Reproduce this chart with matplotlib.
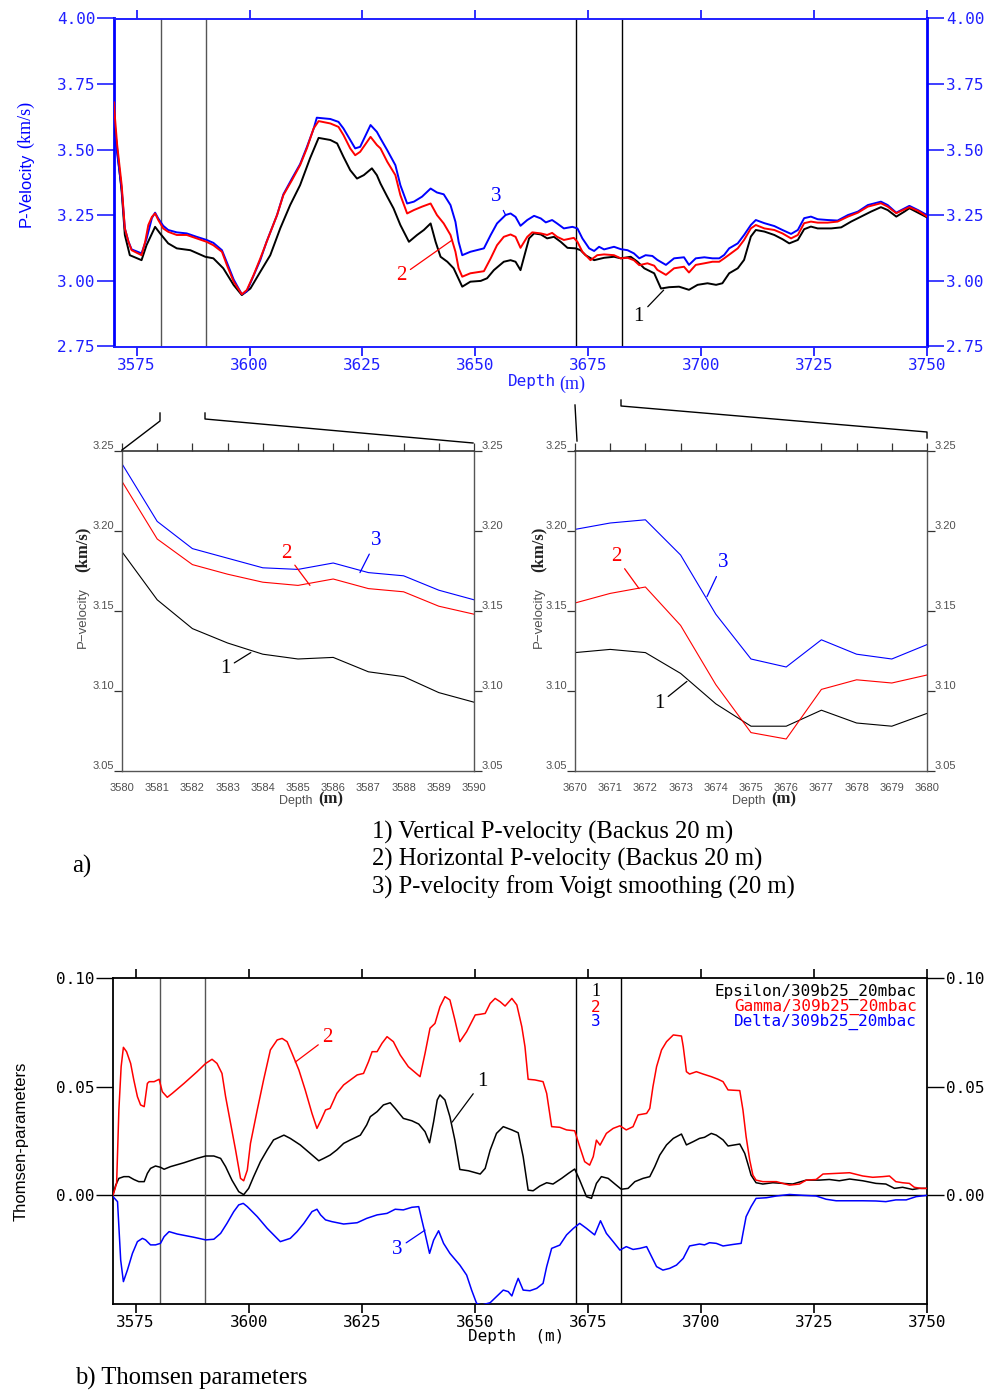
import matplotlib
matplotlib.use("Agg")
import matplotlib.pyplot as plt
from matplotlib.lines import Line2D

# ---------------------------------------------------------------- data
# Upper panel: P-velocity logs (km/s) versus depth (m)
vert_depth = [3570.0, 3570.6, 3571.7, 3572.4, 3573.5, 3576.1, 3577.2, 3579.1, 3580.2, 3582.0,
              3583.9, 3586.9, 3590.2, 3592.0, 3594.2, 3596.5, 3598.3, 3600.2, 3602.4, 3604.6,
              3606.8, 3609.0, 3611.2, 3613.4, 3615.3, 3617.9, 3619.4, 3620.8, 3622.3, 3623.8,
              3625.3, 3627.1, 3628.2, 3629.0, 3630.5, 3631.9, 3633.4, 3635.3, 3637.1, 3638.6,
              3640.1, 3641.2, 3642.3, 3643.8, 3645.2, 3647.1, 3648.9, 3651.2, 3652.6, 3654.1,
              3656.3, 3657.8, 3658.9, 3660.0, 3660.8, 3661.9, 3663.0, 3664.5, 3665.9, 3667.4,
              3668.9, 3670.4, 3672.2, 3673.3, 3674.4, 3676.3, 3678.5, 3680.7, 3682.2, 3684.4,
              3685.9, 3687.4, 3689.6, 3691.1, 3692.9, 3695.1, 3697.3, 3699.2, 3701.4, 3703.3,
              3704.7, 3706.2, 3708.1, 3709.5, 3711.0, 3712.1, 3714.0, 3716.2, 3718.0, 3719.5,
              3721.4, 3722.8, 3724.3, 3725.8, 3728.8, 3731.0, 3733.2, 3735.4, 3737.6, 3739.8,
              3741.3, 3743.2, 3745.0, 3746.1, 3748.0, 3750.0]
vert_vp = [3.620, 3.518, 3.340, 3.175, 3.098, 3.079, 3.136, 3.206, 3.181, 3.143,
           3.124, 3.117, 3.092, 3.086, 3.048, 2.984, 2.946, 2.971, 3.035, 3.098,
           3.200, 3.289, 3.365, 3.467, 3.545, 3.537, 3.524, 3.473, 3.422, 3.390,
           3.403, 3.429, 3.403, 3.371, 3.321, 3.276, 3.213, 3.149, 3.175, 3.194,
           3.219, 3.149, 3.092, 3.073, 3.048, 2.978, 2.997, 3.000, 3.010, 3.041,
           3.073, 3.079, 3.073, 3.041, 3.092, 3.162, 3.181, 3.177, 3.162, 3.168,
           3.149, 3.126, 3.124, 3.117, 3.098, 3.079, 3.088, 3.092, 3.086, 3.092,
           3.073, 3.048, 3.029, 2.971, 2.976, 2.978, 2.966, 2.985, 2.991, 2.985,
           2.991, 3.029, 3.048, 3.080, 3.169, 3.194, 3.188, 3.175, 3.159, 3.143,
           3.156, 3.197, 3.207, 3.200, 3.200, 3.204, 3.226, 3.245, 3.264, 3.281,
           3.270, 3.245, 3.264, 3.277, 3.260, 3.242]

horiz_depth = [3570.0, 3570.2, 3570.7, 3571.7, 3572.4, 3573.2, 3573.9, 3576.1, 3576.9, 3577.6,
               3578.4, 3579.1, 3579.8, 3580.9, 3582.0, 3583.9, 3586.1, 3588.3, 3590.5, 3592.0,
               3593.9, 3595.0, 3596.5, 3598.3, 3599.4, 3600.9, 3602.4, 3603.8, 3606.1, 3607.5,
               3609.4, 3611.2, 3612.7, 3614.2, 3615.3, 3617.9, 3619.7, 3620.8, 3622.3, 3623.4,
               3624.5, 3626.8, 3628.2, 3629.0, 3630.5, 3632.3, 3633.4, 3634.9, 3636.4, 3638.2,
               3640.1, 3641.5, 3643.0, 3644.5, 3645.6, 3646.3, 3647.1, 3648.9, 3651.9, 3653.4,
               3654.8, 3656.3, 3657.8, 3658.9, 3660.0, 3661.5, 3662.6, 3664.5, 3665.9, 3667.0,
               3668.1, 3669.6, 3671.8, 3672.6, 3673.7, 3675.5, 3677.0, 3678.5, 3680.7, 3682.2,
               3683.7, 3685.1, 3686.3, 3688.1, 3689.6, 3690.3, 3692.2, 3694.0, 3696.2, 3697.3,
               3698.8, 3700.7, 3702.5, 3704.0, 3705.1, 3706.6, 3708.1, 3709.5, 3711.0, 3712.1,
               3714.0, 3716.2, 3718.0, 3719.9, 3721.4, 3722.8, 3724.3, 3725.8, 3728.0, 3730.2,
               3732.5, 3734.7, 3736.9, 3739.8, 3741.3, 3743.2, 3744.3, 3746.1, 3748.0, 3750.0]
horiz_vp = [3.680, 3.625, 3.518, 3.365, 3.200, 3.149, 3.117, 3.098, 3.149, 3.213,
            3.244, 3.257, 3.232, 3.200, 3.187, 3.175, 3.175, 3.162, 3.149, 3.136,
            3.111, 3.060, 2.997, 2.949, 2.965, 3.022, 3.086, 3.149, 3.251, 3.327,
            3.384, 3.441, 3.505, 3.581, 3.609, 3.600, 3.587, 3.556, 3.505, 3.479,
            3.492, 3.549, 3.518, 3.505, 3.454, 3.403, 3.327, 3.257, 3.270, 3.283,
            3.295, 3.251, 3.219, 3.175, 3.111, 3.048, 3.016, 3.029, 3.037, 3.086,
            3.136, 3.168, 3.177, 3.168, 3.126, 3.168, 3.185, 3.181, 3.175, 3.183,
            3.168, 3.156, 3.164, 3.149, 3.111, 3.079, 3.098, 3.101, 3.098, 3.086,
            3.088, 3.079, 3.060, 3.067, 3.058, 3.042, 3.023, 3.048, 3.054, 3.032,
            3.061, 3.067, 3.073, 3.073, 3.086, 3.105, 3.124, 3.156, 3.200, 3.213,
            3.200, 3.194, 3.181, 3.162, 3.175, 3.220, 3.226, 3.222, 3.222, 3.226,
            3.245, 3.260, 3.283, 3.296, 3.283, 3.258, 3.267, 3.281, 3.267, 3.245]

voigt_depth = [3570.0, 3570.6, 3571.7, 3572.4, 3573.2, 3573.9, 3576.1, 3577.2, 3578.4, 3579.1,
               3579.8, 3580.9, 3582.0, 3583.9, 3586.1, 3588.3, 3590.5, 3592.0, 3593.9, 3595.0,
               3596.5, 3598.3, 3599.4, 3600.9, 3602.4, 3603.8, 3606.1, 3607.5, 3609.4, 3611.2,
               3612.7, 3614.2, 3614.9, 3617.9, 3619.7, 3620.8, 3623.4, 3624.5, 3626.8, 3628.2,
               3629.0, 3630.5, 3632.3, 3633.4, 3634.9, 3636.4, 3638.2, 3640.1, 3641.5, 3643.0,
               3644.5, 3645.6, 3646.3, 3647.1, 3648.9, 3651.9, 3653.4, 3654.8, 3656.7, 3657.8,
               3658.9, 3660.0, 3661.5, 3663.0, 3664.5, 3665.6, 3667.0, 3668.1, 3669.6, 3671.5,
               3672.6, 3673.7, 3675.2, 3676.3, 3677.4, 3678.5, 3680.7, 3682.2, 3683.7, 3685.1,
               3686.3, 3687.7, 3689.2, 3690.3, 3692.2, 3694.0, 3696.2, 3697.3, 3698.8, 3700.7,
               3702.5, 3704.0, 3705.1, 3706.2, 3708.1, 3709.5, 3711.0, 3712.1, 3714.0, 3716.2,
               3718.0, 3719.9, 3721.4, 3722.8, 3724.3, 3725.8, 3728.0, 3730.2, 3732.5, 3734.7,
               3736.9, 3739.8, 3741.3, 3743.2, 3744.3, 3746.1, 3748.0, 3750.0]
voigt_vp = [3.640, 3.500, 3.350, 3.200, 3.150, 3.120, 3.105, 3.160, 3.240, 3.260,
            3.238, 3.210, 3.194, 3.185, 3.181, 3.168, 3.156, 3.145, 3.117, 3.070,
            3.005, 2.949, 2.960, 3.020, 3.080, 3.150, 3.251, 3.330, 3.390, 3.445,
            3.510, 3.580, 3.622, 3.617, 3.606, 3.581, 3.505, 3.511, 3.594, 3.568,
            3.543, 3.498, 3.441, 3.365, 3.295, 3.302, 3.321, 3.352, 3.337, 3.330,
            3.289, 3.225, 3.149, 3.098, 3.111, 3.124, 3.175, 3.219, 3.251, 3.257,
            3.244, 3.210, 3.232, 3.248, 3.238, 3.223, 3.232, 3.219, 3.200, 3.206,
            3.200, 3.162, 3.124, 3.114, 3.130, 3.120, 3.130, 3.121, 3.117, 3.105,
            3.086, 3.098, 3.095, 3.080, 3.061, 3.086, 3.090, 3.061, 3.086, 3.090,
            3.086, 3.086, 3.099, 3.124, 3.143, 3.175, 3.213, 3.232, 3.220, 3.209,
            3.194, 3.179, 3.194, 3.239, 3.245, 3.235, 3.232, 3.230, 3.251, 3.264,
            3.289, 3.302, 3.289, 3.260, 3.270, 3.286, 3.270, 3.251]

# Enlarged windows (1 m sampling)
win1_depth = [3580, 3581, 3582, 3583, 3584, 3585, 3586, 3587, 3588, 3589, 3590]
win1_vert = [3.187, 3.157, 3.139, 3.130, 3.123, 3.120, 3.121, 3.112, 3.109, 3.099, 3.093]
win1_horiz = [3.231, 3.195, 3.179, 3.173, 3.168, 3.166, 3.170, 3.164, 3.162, 3.153, 3.148]
win1_voigt = [3.242, 3.206, 3.189, 3.183, 3.177, 3.176, 3.180, 3.174, 3.172, 3.163, 3.157]

win2_depth = [3670, 3671, 3672, 3673, 3674, 3675, 3676, 3677, 3678, 3679, 3680]
win2_vert = [3.124, 3.126, 3.124, 3.111, 3.092, 3.078, 3.078, 3.088, 3.080, 3.078, 3.086]
win2_horiz = [3.155, 3.161, 3.165, 3.141, 3.104, 3.074, 3.070, 3.101, 3.107, 3.105, 3.110]
win2_voigt = [3.201, 3.205, 3.207, 3.185, 3.148, 3.120, 3.115, 3.132, 3.123, 3.120, 3.129]

# Lower panel: Thomsen parameters
eps_depth = [3570.0, 3570.6, 3571.3, 3572.4, 3573.5, 3574.6, 3575.7, 3576.9, 3577.6, 3578.3,
             3579.4, 3580.5, 3581.3, 3582.7, 3585.7, 3588.6, 3590.5, 3592.3, 3593.8, 3594.9,
             3596.3, 3597.8, 3598.9, 3600.0, 3601.1, 3602.6, 3604.1, 3605.5, 3607.8, 3609.2,
             3611.4, 3613.6, 3615.5, 3616.6, 3618.0, 3619.5, 3621.0, 3622.5, 3624.7, 3626.1,
             3626.9, 3628.4, 3629.8, 3631.3, 3632.4, 3634.2, 3636.1, 3637.6, 3639.0, 3640.0,
             3640.9, 3641.7, 3642.3, 3643.4, 3644.5, 3645.6, 3646.7, 3648.6, 3651.2, 3652.3,
             3653.4, 3654.8, 3656.3, 3658.2, 3659.6, 3660.7, 3661.8, 3662.9, 3664.4, 3665.9,
             3667.3, 3669.2, 3670.7, 3672.1, 3673.2, 3674.7, 3675.8, 3676.9, 3678.0, 3679.5,
             3681.0, 3682.4, 3683.9, 3685.4, 3687.2, 3688.7, 3689.8, 3690.9, 3692.4, 3693.9,
             3695.7, 3696.8, 3698.3, 3699.7, 3700.8, 3702.3, 3703.4, 3704.9, 3706.0, 3708.6,
             3709.7, 3710.4, 3711.1, 3712.2, 3713.7, 3715.9, 3718.1, 3720.3, 3723.3, 3726.2,
             3728.4, 3730.6, 3732.9, 3735.8, 3738.7, 3740.9, 3742.8, 3744.6, 3746.8, 3748.3,
             3750.0]
epsilon = [0.0003, 0.0047, 0.0078, 0.0086, 0.0086, 0.0073, 0.0063, 0.0063, 0.0101, 0.0124,
           0.0135, 0.0129, 0.0120, 0.0132, 0.0150, 0.0170, 0.0181, 0.0181, 0.0170, 0.0132,
           0.0070, 0.0017, 0.0003, 0.0032, 0.0086, 0.0155, 0.0209, 0.0255, 0.0277, 0.0262,
           0.0232, 0.0193, 0.0159, 0.0170, 0.0185, 0.0209, 0.0239, 0.0255, 0.0277, 0.0324,
           0.0362, 0.0385, 0.0416, 0.0426, 0.0400, 0.0354, 0.0343, 0.0328, 0.0293, 0.0242,
           0.0339, 0.0439, 0.0462, 0.0439, 0.0362, 0.0254, 0.0119, 0.0113, 0.0098, 0.0124,
           0.0208, 0.0285, 0.0316, 0.0301, 0.0288, 0.0178, 0.0024, 0.0021, 0.0043, 0.0058,
           0.0052, 0.0078, 0.0101, 0.0121, 0.0070, -0.0006, -0.0014, 0.0055, 0.0086, 0.0078,
           0.0052, 0.0028, 0.0032, 0.0063, 0.0078, 0.0086, 0.0132, 0.0185, 0.0232, 0.0262,
           0.0282, 0.0232, 0.0247, 0.0262, 0.0267, 0.0285, 0.0277, 0.0255, 0.0227, 0.0236,
           0.0193, 0.0144, 0.0093, 0.0058, 0.0052, 0.0058, 0.0055, 0.0052, 0.0070, 0.0070,
           0.0073, 0.0067, 0.0075, 0.0067, 0.0055, 0.0052, 0.0032, 0.0037, 0.0027, 0.0032,
           0.0032]

gam_depth = [3570.0, 3570.8, 3571.3, 3571.8, 3572.3, 3573.0, 3573.9, 3574.6, 3575.4, 3576.1,
             3576.9, 3577.6, 3578.0, 3579.1, 3580.2, 3580.9, 3582.0, 3583.1, 3585.7, 3588.6,
             3590.5, 3591.9, 3593.0, 3594.1, 3594.9, 3596.0, 3597.1, 3598.2, 3598.9, 3599.7,
             3600.4, 3601.9, 3603.3, 3604.8, 3606.3, 3607.4, 3608.5, 3609.6, 3611.1, 3612.5,
             3614.0, 3615.1, 3616.0, 3617.0, 3618.0, 3619.5, 3621.0, 3622.5, 3624.0, 3625.4,
             3626.5, 3627.3, 3628.4, 3629.5, 3630.6, 3632.0, 3633.5, 3635.3, 3637.9, 3639.0,
             3640.1, 3641.2, 3642.3, 3643.4, 3644.5, 3645.6, 3646.7, 3648.2, 3650.1, 3651.2,
             3652.3, 3653.4, 3654.5, 3655.6, 3656.7, 3658.2, 3659.3, 3660.4, 3661.1, 3661.8,
             3663.3, 3665.1, 3665.9, 3667.0, 3668.8, 3670.3, 3672.1, 3673.2, 3674.3, 3675.4,
             3676.2, 3676.9, 3677.7, 3679.1, 3680.6, 3682.1, 3683.5, 3685.0, 3686.1, 3688.0,
             3688.7, 3689.4, 3690.2, 3691.3, 3692.4, 3693.9, 3695.7, 3696.1, 3696.8, 3697.5,
             3699.0, 3700.5, 3702.3, 3703.8, 3704.9, 3706.0, 3708.6, 3709.3, 3710.0, 3710.8,
             3711.5, 3712.2, 3713.7, 3716.7, 3718.1, 3719.6, 3721.8, 3723.3, 3725.5, 3727.0,
             3729.9, 3732.9, 3735.8, 3738.0, 3740.2, 3741.7, 3743.1, 3744.6, 3746.1, 3747.2,
             3748.7, 3750.0]
gamma = [0.0000, 0.0055, 0.0393, 0.0592, 0.0681, 0.0661, 0.0607, 0.0531, 0.0454, 0.0416,
         0.0408, 0.0515, 0.0523, 0.0523, 0.0534, 0.0477, 0.0451, 0.0469, 0.0515, 0.0569,
         0.0607, 0.0626, 0.0607, 0.0561, 0.0454, 0.0331, 0.0209, 0.0078, 0.0067, 0.0116,
         0.0239, 0.0393, 0.0531, 0.0669, 0.0715, 0.0722, 0.0707, 0.0653, 0.0577, 0.0485,
         0.0377, 0.0308, 0.0346, 0.0393, 0.0400, 0.0469, 0.0508, 0.0531, 0.0554, 0.0561,
         0.0615, 0.0661, 0.0661, 0.0700, 0.0730, 0.0707, 0.0646, 0.0592, 0.0546, 0.0653,
         0.0769, 0.0791, 0.0868, 0.0914, 0.0899, 0.0807, 0.0707, 0.0753, 0.0830, 0.0833,
         0.0837, 0.0883, 0.0906, 0.0891, 0.0871, 0.0906, 0.0876, 0.0776, 0.0684, 0.0534,
         0.0531, 0.0523, 0.0469, 0.0316, 0.0313, 0.0301, 0.0297, 0.0224, 0.0155, 0.0139,
         0.0178, 0.0254, 0.0231, 0.0285, 0.0308, 0.0320, 0.0301, 0.0316, 0.0370, 0.0377,
         0.0400, 0.0500, 0.0592, 0.0669, 0.0707, 0.0738, 0.0733, 0.0684, 0.0569, 0.0558,
         0.0569, 0.0558, 0.0546, 0.0534, 0.0523, 0.0485, 0.0482, 0.0393, 0.0270, 0.0162,
         0.0093, 0.0070, 0.0063, 0.0063, 0.0055, 0.0047, 0.0052, 0.0070, 0.0073, 0.0098,
         0.0101, 0.0104, 0.0089, 0.0083, 0.0086, 0.0089, 0.0063, 0.0058, 0.0055, 0.0037,
         0.0032, 0.0032]

del_depth = [3570.0, 3571.0, 3571.3, 3571.7, 3572.3, 3573.2, 3574.3, 3575.4, 3576.5, 3577.2,
             3578.3, 3579.4, 3580.5, 3581.3, 3582.4, 3584.2, 3587.9, 3590.5, 3592.3, 3593.8,
             3595.2, 3596.7, 3597.8, 3598.8, 3599.7, 3601.9, 3604.1, 3607.0, 3609.2, 3610.7,
             3612.2, 3614.0, 3615.1, 3615.9, 3617.0, 3618.4, 3621.0, 3624.0, 3626.1, 3628.4,
             3630.6, 3632.4, 3634.2, 3636.1, 3637.6, 3638.3, 3639.0, 3640.0, 3640.9, 3642.0,
             3643.1, 3644.5, 3646.7, 3648.2, 3649.3, 3650.4, 3651.5, 3653.4, 3654.8, 3656.3,
             3657.4, 3658.2, 3658.9, 3659.6, 3660.7, 3662.2, 3663.7, 3665.1, 3665.9, 3667.0,
             3668.8, 3670.3, 3671.8, 3673.2, 3674.7, 3676.5, 3677.8, 3679.1, 3680.6, 3682.1,
             3683.5, 3685.0, 3686.5, 3688.0, 3689.1, 3690.2, 3691.6, 3693.1, 3694.6, 3696.1,
             3697.5, 3699.7, 3700.8, 3701.9, 3703.4, 3704.9, 3707.1, 3708.9, 3709.3, 3710.0,
             3711.1, 3712.2, 3714.5, 3716.7, 3719.6, 3722.5, 3725.5, 3727.7, 3729.9, 3735.8,
             3738.7, 3740.9, 3743.1, 3745.4, 3747.6, 3750.0]
delta = [-0.0006, -0.0029, -0.0144, -0.0298, -0.0397, -0.0343, -0.0267, -0.0213, -0.0198, -0.0205,
         -0.0228, -0.0228, -0.0221, -0.0190, -0.0167, -0.0178, -0.0193, -0.0205, -0.0202, -0.0175,
         -0.0129, -0.0075, -0.0044, -0.0037, -0.0052, -0.0098, -0.0152, -0.0213, -0.0198, -0.0167,
         -0.0129, -0.0075, -0.0064, -0.0090, -0.0113, -0.0121, -0.0132, -0.0126, -0.0106, -0.0090,
         -0.0083, -0.0064, -0.0067, -0.0055, -0.0052, -0.0114, -0.0175, -0.0267, -0.0206, -0.0163,
         -0.0221, -0.0267, -0.0321, -0.0367, -0.0436, -0.0497, -0.0505, -0.0494, -0.0466, -0.0436,
         -0.0443, -0.0463, -0.0420, -0.0382, -0.0436, -0.0439, -0.0428, -0.0405, -0.0328, -0.0244,
         -0.0229, -0.0182, -0.0152, -0.0129, -0.0152, -0.0182, -0.0117, -0.0175, -0.0213, -0.0252,
         -0.0236, -0.0249, -0.0244, -0.0236, -0.0282, -0.0328, -0.0344, -0.0336, -0.0321, -0.0290,
         -0.0233, -0.0224, -0.0228, -0.0218, -0.0221, -0.0233, -0.0226, -0.0221, -0.0175, -0.0098,
         -0.0052, -0.0014, -0.0011, -0.0003, 0.0004, 0.0000, -0.0003, -0.0018, -0.0025, -0.0025,
         -0.0026, -0.0029, -0.0021, -0.0021, -0.0006, 0.0000]

depth_ticks = [3575, 3600, 3625, 3650, 3675, 3700, 3725, 3750]
vp_ticks = [2.75, 3.00, 3.25, 3.50, 3.75, 4.00]
win_vp_ticks = [3.05, 3.10, 3.15, 3.20, 3.25]
thomsen_ticks = [0.00, 0.05, 0.10]
window_edges = [3580.3, 3590.4, 3672.3, 3682.4]

legend_lines = ["1) Vertical P-velocity (Backus 20 m)",
                "2) Horizontal P-velocity (Backus 20 m)",
                "3) P-velocity from Voigt smoothing (20 m)"]
thomsen_names = ["Epsilon/309b25_20mbac", "Gamma/309b25_20mbac", "Delta/309b25_20mbac"]

# ---------------------------------------------------------------- style
W, H = 1004, 1392
BLUE = "#0000ff"
RED = "#ff0000"
AXBLUE = "#1f1fff"
MONO = "DejaVu Sans Mono"
SERIF = "Liberation Serif"
SANS = "Liberation Sans"
GREY = "#505050"
TICKFS = 11.5

fig = plt.figure(figsize=(W / 100, H / 100), dpi=100)


def fx(x):
    return x / W


def fy(y):
    return 1 - y / H


def box(x0, y0, x1, y1):
    return [fx(x0), fy(y1), fx(x1) - fx(x0), fy(y0) - fy(y1)]


# ---------------------------------------------------------------- upper panel
ax1 = fig.add_axes(box(114, 18.5, 927, 346.5))
ax1.plot(vert_depth, vert_vp, color="black", lw=1.4, zorder=3)
ax1.plot(voigt_depth, voigt_vp, color=BLUE, lw=1.4, zorder=4)
ax1.plot(horiz_depth, horiz_vp, color=RED, lw=1.4, zorder=5)
for i, d in enumerate(window_edges):
    ax1.axvline(d, color="#555555" if i < 2 else "black", lw=1.0, zorder=2)
ax1.set_xlim(3570, 3750)
ax1.set_ylim(2.75, 4.00)
ax1.set_xticks(depth_ticks)
ax1.set_xticklabels([str(t) for t in depth_ticks], family=MONO, fontsize=TICKFS, color=AXBLUE)
ax1.set_yticks(vp_ticks)
ax1.set_yticklabels(["%.2f" % t for t in vp_ticks], family=MONO, fontsize=TICKFS, color=AXBLUE)
ax1.tick_params(axis="x", direction="out", top=True, bottom=True, length=6.5, width=1.3,
                color=AXBLUE, pad=2)
ax1.tick_params(axis="y", direction="out", left=True, right=True, labelleft=True,
                labelright=True, length=12, width=1.2, color=AXBLUE, pad=1.5)
for side in ("left", "right"):
    ax1.spines[side].set_color(BLUE)
    ax1.spines[side].set_linewidth(2.0)
for side in ("top", "bottom"):
    ax1.spines[side].set_color(AXBLUE)
    ax1.spines[side].set_linewidth(1.4)

ann_kw = dict(textcoords="data", family=SERIF, fontsize=15, ha="center", va="center")
ax1.annotate("3", xy=(3656.7, 3.251), xytext=(3654.7, 3.320), color=BLUE,
             arrowprops=dict(arrowstyle="-", color=BLUE, lw=0.9, shrinkA=1, shrinkB=0), **ann_kw)
ax1.annotate("2", xy=(3644.9, 3.156), xytext=(3633.6, 3.019), color=RED,
             arrowprops=dict(arrowstyle="-", color=RED, lw=0.9, shrinkA=1, shrinkB=0), **ann_kw)
ax1.annotate("1", xy=(3691.7, 2.965), xytext=(3686.2, 2.866), color="black",
             arrowprops=dict(arrowstyle="-", color="black", lw=0.9, shrinkA=1, shrinkB=0), **ann_kw)

fig.text(fx(556), fy(381), "Depth", family=MONO, fontsize=TICKFS, color=AXBLUE,
         ha="right", va="center")
fig.text(fx(559), fy(384), "(m)", family=SERIF, fontsize=13, color=AXBLUE, ha="left", va="center")
fig.text(fx(26), fy(190), "P-Velocity", family=SANS, fontsize=12, color=BLUE, rotation=90,
         ha="center", va="center")
fig.text(fx(26), fy(124), "(km/s)", family=SERIF, fontsize=13, color=BLUE, rotation=90,
         ha="center", va="center")


# ---------------------------------------------------------------- enlarged windows
def window(rect, depth, vert, horiz, voigt, ann, ylab_x, xlab_x):
    ax = fig.add_axes(box(*rect))
    ax.plot(depth, vert, color="black", lw=0.8)
    ax.plot(depth, horiz, color=RED, lw=0.8)
    ax.plot(depth, voigt, color=BLUE, lw=0.8)
    ax.set_xlim(depth[0], depth[-1])
    ax.set_ylim(3.05, 3.25)
    ax.set_xticks(depth)
    ax.set_xticklabels([str(d) for d in depth], family=SANS, fontsize=8, color=GREY)
    ax.set_yticks(win_vp_ticks)
    ax.set_yticklabels(["%.2f" % t for t in win_vp_ticks], family=SANS, fontsize=8, color=GREY)
    ax.tick_params(axis="x", top=True, bottom=False, direction="out", length=5.8, width=0.9,
                   color="#333333", pad=2.5)
    ax.tick_params(axis="y", left=True, right=True, labelright=True, direction="out",
                   length=5.5, width=0.9, color="#333333", pad=0)
    for lab in ax.get_yticklabels():
        lab.set_verticalalignment("bottom")
    for side in ("left", "right", "bottom"):
        ax.spines[side].set_color("#555555")
        ax.spines[side].set_linewidth(1.0)
    ax.spines["top"].set_color("#333333")
    ax.spines["top"].set_linewidth(1.2)
    for txt, col, xy, xyt in ann:
        ax.annotate(txt, xy=xy, xytext=xyt, color=col,
                    arrowprops=dict(arrowstyle="-", color=col, lw=0.9, shrinkA=1, shrinkB=0),
                    **ann_kw)
    fig.text(fx(ylab_x), fy(618), "P\u2212velocity", family=SANS, fontsize=9.5, color=GREY,
             rotation=90, ha="center", va="center")
    fig.text(fx(ylab_x), fy(549), "(km/s)", family=SERIF, fontsize=12, weight="bold",
             color="#222222", rotation=90, ha="center", va="center")
    fig.text(fx(xlab_x), fy(801), "Depth", family=SANS, fontsize=9, color=GREY,
             ha="right", va="center")
    fig.text(fx(xlab_x + 5), fy(799), "(m)", family=SERIF, fontsize=12, weight="bold",
             color="#222222", ha="left", va="center")
    return ax


window((122, 451, 474, 771), win1_depth, win1_vert, win1_horiz, win1_voigt,
       [("3", BLUE, (3586.76, 3.174), (3587.22, 3.194)),
        ("2", RED, (3585.34, 3.166), (3584.66, 3.186)),
        ("1", "black", (3583.66, 3.124), (3582.93, 3.114))], 83, 313)
window((575, 451, 927, 771), win2_depth, win2_vert, win2_horiz, win2_voigt,
       [("3", BLUE, (3673.75, 3.159), (3674.20, 3.180)),
        ("2", RED, (3671.82, 3.164), (3671.16, 3.184)),
        ("1", "black", (3673.18, 3.106), (3672.39, 3.092))], 539, 766)

# connector lines from the depth windows to the enlarged panels
connectors = [
    [(122, 450), (160, 421), (160, 413)],
    [(205, 413), (205, 419), (473, 443)],
    [(575, 405), (577, 441)],
    [(621, 400), (621, 406), (927, 432), (927, 438)],
]
for pts in connectors:
    fig.add_artist(Line2D([fx(p[0]) for p in pts], [fy(p[1]) for p in pts],
                          transform=fig.transFigure, color="black", lw=1.0))

for i, s in enumerate(legend_lines):
    fig.text(fx(372), fy(832 + 27.5 * i), s, family=SERIF, fontsize=17.7, ha="left", va="center")
fig.text(fx(72), fy(866), "a)", family=SERIF, fontsize=17.7, ha="left", va="center")

# ---------------------------------------------------------------- lower panel
ax3 = fig.add_axes(box(113, 978, 927, 1304))
ax3.axhline(0, color="black", lw=1.0, zorder=2)
for i, d in enumerate(window_edges):
    ax3.axvline(d, color="#555555" if i < 2 else "black", lw=1.0, zorder=2)
ax3.plot(eps_depth, epsilon, color="black", lw=1.1, zorder=3)
ax3.plot(gam_depth, gamma, color=RED, lw=1.1, zorder=3)
ax3.plot(del_depth, delta, color=BLUE, lw=1.1, zorder=3)
ax3.set_xlim(3570, 3750)
ax3.set_ylim(-0.05, 0.10)
ax3.set_xticks(depth_ticks)
ax3.set_xticklabels([str(t) for t in depth_ticks], family=MONO, fontsize=TICKFS)
ax3.set_yticks(thomsen_ticks)
ax3.set_yticklabels(["%.2f" % t for t in thomsen_ticks], family=MONO, fontsize=TICKFS)
ax3.tick_params(axis="x", direction="out", top=True, bottom=True, length=6.5, width=1.2, pad=1.5)
ax3.tick_params(axis="y", direction="out", left=True, right=True, labelleft=True,
                labelright=True, length=12, width=1.0, pad=1.5)
for side in ax3.spines:
    ax3.spines[side].set_linewidth(1.3)

ax3.annotate("2", xy=(3610.3, 0.0613), xytext=(3617.4, 0.0724), color=RED,
             arrowprops=dict(arrowstyle="-", color=RED, lw=0.9, shrinkA=1, shrinkB=0), **ann_kw)
ax3.annotate("1", xy=(3645.0, 0.0337), xytext=(3651.6, 0.0522), color="black",
             arrowprops=dict(arrowstyle="-", color="black", lw=0.9, shrinkA=1, shrinkB=0), **ann_kw)
ax3.annotate("3", xy=(3639.0, -0.0160), xytext=(3632.8, -0.0247), color=BLUE,
             arrowprops=dict(arrowstyle="-", color=BLUE, lw=0.9, shrinkA=1, shrinkB=0), **ann_kw)

for i, (name, col) in enumerate(zip(thomsen_names, ["black", RED, BLUE])):
    yy = 992 + 15 * i
    fig.text(fx(596), fy(yy), str(i + 1), family=SERIF if i == 0 else MONO,
             fontsize=13 if i == 0 else TICKFS, color=col, ha="center", va="center")
    fig.text(fx(917), fy(yy), name, family=MONO, fontsize=TICKFS, color=col,
             ha="right", va="center")

fig.text(fx(516), fy(1336), "Depth  (m)", family=MONO, fontsize=TICKFS, ha="center", va="center")
fig.text(fx(21), fy(1141), "Thomsen-parameters", family=SANS, fontsize=12, rotation=90,
         ha="center", va="center")
fig.text(fx(75), fy(1378), "b) Thomsen parameters", family=SERIF, fontsize=17.7,
         ha="left", va="center")

fig.savefig("out.png", dpi=100)
